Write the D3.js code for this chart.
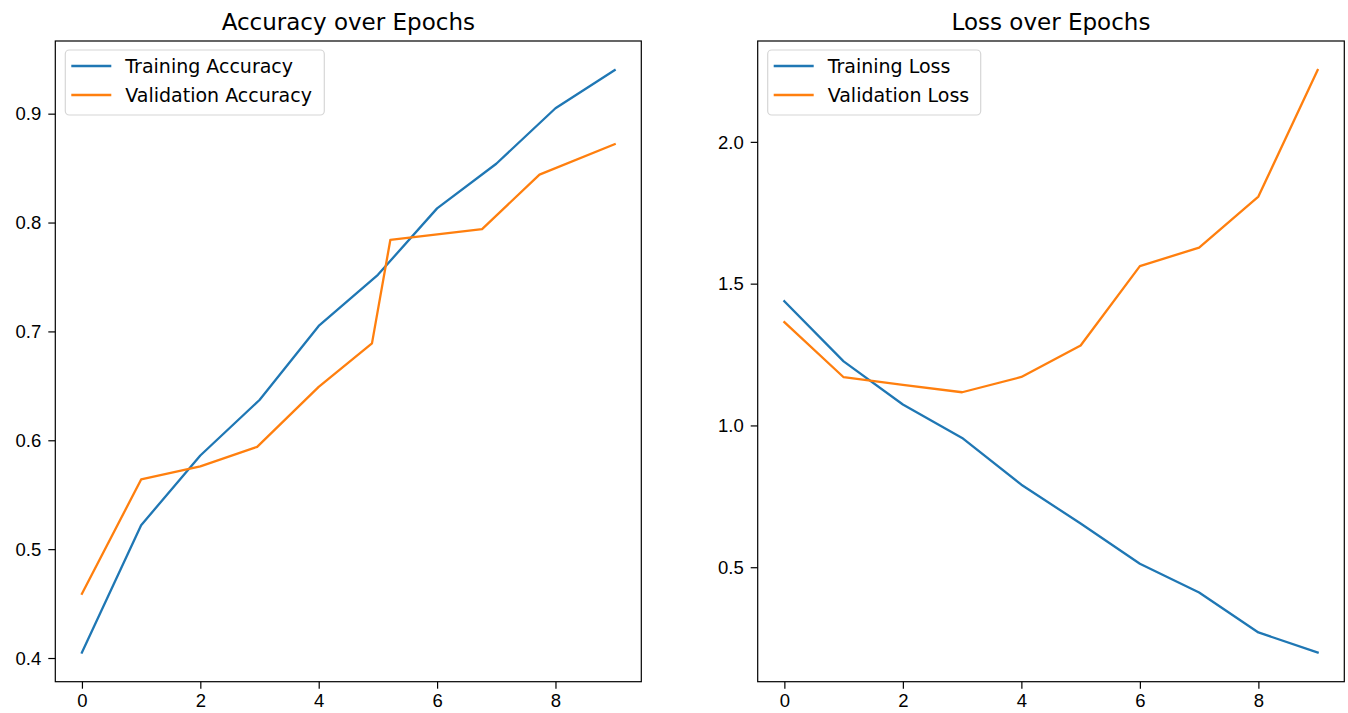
<!DOCTYPE html>
<html>
<head>
<meta charset="utf-8">
<script src="https://cdn.jsdelivr.net/npm/d3@7"></script>
<style>
  html, body { margin: 0; padding: 0; background: #fff; }
  svg { display: block; font-family: "DejaVu Sans", sans-serif; }
  .tick text { font-size: 18.5px; fill: #000; }
  .tick line { stroke: #000; stroke-width: 1.2; }
</style>
</head>
<body>
<svg id="chart" width="1348" height="713"></svg>
<script>
// epochs on the x axis
var epochs = [0, 1, 2, 3, 4, 5, 6, 7, 8, 9];
// the validation accuracy vertices sit off the integer epochs in the picture
var valAccEpochs = [0, 1, 2, 2.96, 4, 4.9, 5.21, 6.76, 7.73, 9];

var trainAcc = [0.405, 0.522, 0.586, 0.637, 0.705, 0.752, 0.813, 0.854, 0.905, 0.940];
var valAcc = [0.459, 0.564, 0.576, 0.594, 0.649, 0.689, 0.784, 0.794, 0.844, 0.872];

var trainLoss = [1.438, 1.226, 1.074, 0.956, 0.791, 0.654, 0.512, 0.411, 0.270, 0.199];
var valLoss = [1.364, 1.170, 1.143, 1.117, 1.171, 1.282, 1.562, 1.627, 1.807, 2.253];

var xTicks = [0, 2, 4, 6, 8];
var accTicks = [0.4, 0.5, 0.6, 0.7, 0.8, 0.9];
var lossTicks = [0.5, 1.0, 1.5, 2.0];

var blue = '#1f77b4';
var orange = '#ff7f0e';

var svg = d3.select('#chart');

// matplotlib style 5% padding around the data
function padded(values) {
  var ext = d3.extent(values);
  var m = (ext[1] - ext[0]) * 0.05;
  return [ext[0] - m, ext[1] + m];
}

function drawPanel(opts) {
  var left = opts.left, right = opts.right, top = 41, bottom = 681.7;
  var g = svg.append('g');

  var x = d3.scaleLinear().domain(padded(epochs)).range([left, right]);
  var allY = [];
  opts.series.forEach(function(s) { allY = allY.concat(s.values); });
  var y = d3.scaleLinear().domain(padded(allY)).range([bottom, top]);

  var xAxis = g.append('g')
    .attr('transform', 'translate(0,' + bottom + ')')
    .call(d3.axisBottom(x).tickValues(xTicks).tickFormat(d3.format('d'))
      .tickSize(7).tickSizeOuter(0).tickPadding(5));
  xAxis.select('.domain').remove();

  var yAxis = g.append('g')
    .attr('transform', 'translate(' + left + ',0)')
    .call(d3.axisLeft(y).tickValues(opts.yTicks).tickFormat(d3.format('.1f'))
      .tickSize(7).tickSizeOuter(0).tickPadding(7));
  yAxis.select('.domain').remove();
  yAxis.selectAll('text').attr('dy', '0.34em');

  var line = d3.line()
    .x(function(d) { return x(d[0]); })
    .y(function(d) { return y(d[1]); });

  opts.series.forEach(function(s) {
    var pts = s.values.map(function(v, i) { return [s.xs[i], v]; });
    g.append('path')
      .datum(pts)
      .attr('d', line)
      .attr('fill', 'none')
      .attr('stroke', s.color)
      .attr('stroke-width', 2.3)
      .attr('stroke-linejoin', 'round')
      .attr('stroke-linecap', 'square');
  });

  // frame
  g.append('rect')
    .attr('x', left).attr('y', top)
    .attr('width', right - left).attr('height', bottom - top)
    .attr('fill', 'none')
    .attr('stroke', '#000')
    .attr('stroke-width', 1.2);

  g.append('text')
    .attr('x', (left + right) / 2)
    .attr('y', 30)
    .attr('text-anchor', 'middle')
    .attr('font-size', 23)
    .attr('fill', '#000')
    .text(opts.title);

  // legend
  var lg = g.append('g');
  lg.append('rect')
    .attr('x', left + 10).attr('y', top + 9)
    .attr('width', opts.legendWidth).attr('height', 65)
    .attr('rx', 4)
    .attr('fill', '#fff').attr('fill-opacity', 0.8)
    .attr('stroke', '#d6d6d6').attr('stroke-width', 1.2);

  opts.series.forEach(function(s, i) {
    var cy = top + 25 + i * 29;
    lg.append('line')
      .attr('x1', left + 16).attr('x2', left + 56)
      .attr('y1', cy).attr('y2', cy)
      .attr('stroke', s.color).attr('stroke-width', 2.3);
    lg.append('text')
      .attr('x', left + 70).attr('y', cy)
      .attr('dy', '0.35em')
      .attr('font-size', 19)
      .attr('fill', '#000')
      .text(s.name);
  });
}

drawPanel({
  left: 55.3, right: 641.3,
  title: 'Accuracy over Epochs',
  yTicks: accTicks,
  legendWidth: 259,
  series: [
    { name: 'Training Accuracy', xs: epochs, values: trainAcc, color: blue },
    { name: 'Validation Accuracy', xs: valAccEpochs, values: valAcc, color: orange }
  ]
});

drawPanel({
  left: 757.7, right: 1344.3,
  title: 'Loss over Epochs',
  yTicks: lossTicks,
  legendWidth: 213,
  series: [
    { name: 'Training Loss', xs: epochs, values: trainLoss, color: blue },
    { name: 'Validation Loss', xs: epochs, values: valLoss, color: orange }
  ]
});
</script>
</body>
</html>
